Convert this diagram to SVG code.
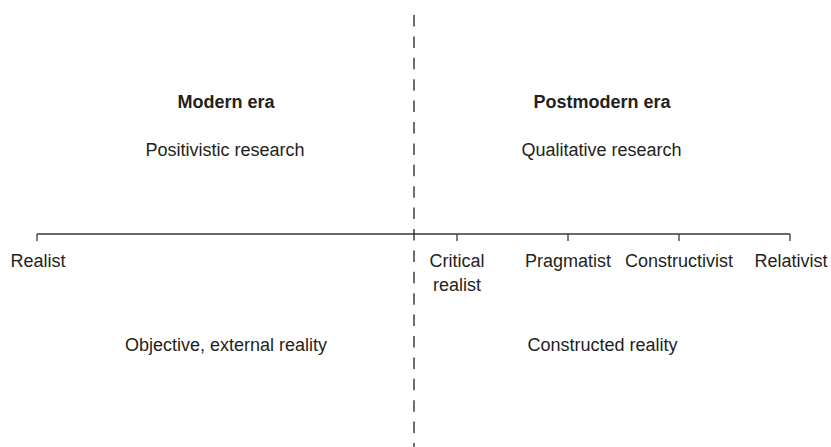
<svg xmlns="http://www.w3.org/2000/svg" width="831" height="447" viewBox="0 0 831 447">
  <style>
    text { font-family: "Liberation Sans", Arial, sans-serif; font-size: 18px; fill: #231f20; text-anchor: middle; }
    .head { font-weight: bold; }
    .axis { stroke: #3a3a3a; stroke-width: 1.3; fill: none; }
    .divider { stroke: #231f20; stroke-width: 1.3; stroke-dasharray: 11.5 9.9; fill: none; }
  </style>
  <rect width="831" height="447" fill="#ffffff"/>

  <g id="connectors">
    <!-- continuum axis with ticks -->
    <path class="axis" d="M37,234 H790 M37,234 V241 M457,234 V241 M568,234 V241 M679,234 V241 M790,234 V241"/>
    <!-- era divider -->
    <path class="divider" d="M414,15 V447"/>
  </g>

  <g id="modern-era">
    <text class="head" x="226" y="107.5">Modern era</text>
    <text x="225" y="155.5">Positivistic research</text>
    <text x="226" y="350.5">Objective, external reality</text>
  </g>

  <g id="postmodern-era">
    <text class="head" x="602" y="107.5">Postmodern era</text>
    <text x="601.5" y="155.5">Qualitative research</text>
    <text x="602.5" y="350.5">Constructed reality</text>
  </g>

  <g id="realist"><text x="38" y="267">Realist</text></g>
  <g id="critical-realist"><text x="457" y="267">Critical</text><text x="457" y="291">realist</text></g>
  <g id="pragmatist"><text x="568" y="267">Pragmatist</text></g>
  <g id="constructivist"><text x="679" y="267">Constructivist</text></g>
  <g id="relativist"><text x="791" y="267">Relativist</text></g>
</svg>
